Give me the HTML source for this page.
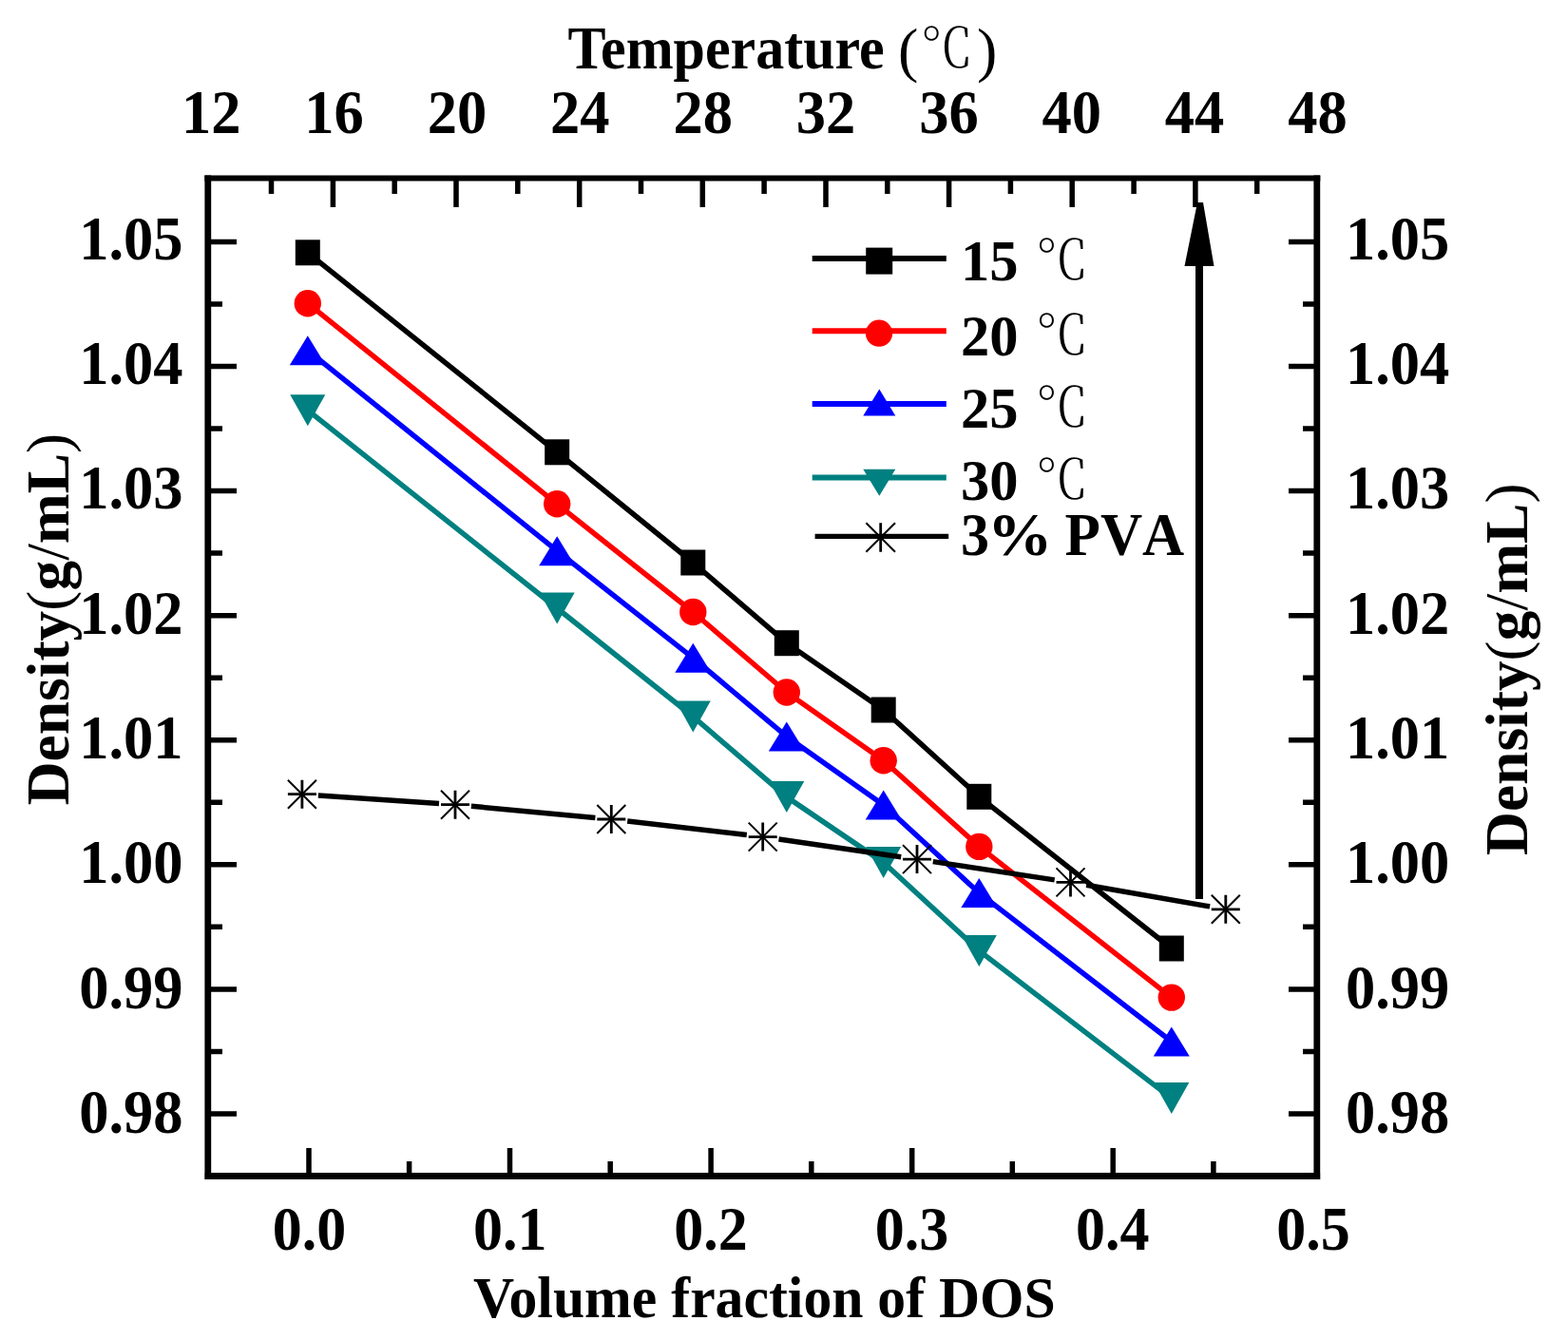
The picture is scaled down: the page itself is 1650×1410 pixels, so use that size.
<!DOCTYPE html>
<html><head><meta charset="utf-8"><style>html,body{margin:0;padding:0;background:#fff;}svg{display:block}</style></head>
<body><svg width="1650" height="1410" viewBox="0 0 1650 1410">
<rect width="1650" height="1410" fill="#fff"/>
<path d="M218.5 254.5H249 M1385.5 254.5H1356 M218.5 320.0H234 M1385.5 320.0H1371 M218.5 385.6H249 M1385.5 385.6H1356 M218.5 451.1H234 M1385.5 451.1H1371 M218.5 516.6H249 M1385.5 516.6H1356 M218.5 582.1H234 M1385.5 582.1H1371 M218.5 647.7H249 M1385.5 647.7H1356 M218.5 713.2H234 M1385.5 713.2H1371 M218.5 778.7H249 M1385.5 778.7H1356 M218.5 844.3H234 M1385.5 844.3H1371 M218.5 909.8H249 M1385.5 909.8H1356 M218.5 975.3H234 M1385.5 975.3H1371 M218.5 1040.9H249 M1385.5 1040.9H1356 M218.5 1106.4H234 M1385.5 1106.4H1371 M218.5 1171.9H249 M1385.5 1171.9H1356 M325.0 1236.5V1208 M430.6 1236.5V1222 M536.5 1236.5V1208 M642.2 1236.5V1222 M748.1 1236.5V1208 M853.8 1236.5V1222 M959.7 1236.5V1208 M1065.3 1236.5V1222 M1171.2 1236.5V1208 M1276.9 1236.5V1222 M285.5 187.5V204 M350.4 187.5V218 M415.2 187.5V204 M480.0 187.5V218 M544.8 187.5V204 M609.7 187.5V218 M674.5 187.5V204 M739.3 187.5V218 M804.1 187.5V204 M869.0 187.5V218 M933.8 187.5V204 M998.6 187.5V218 M1063.4 187.5V204 M1128.2 187.5V218 M1193.1 187.5V204 M1257.9 187.5V218 M1322.7 187.5V204" stroke="#000" stroke-width="5.5" fill="none"/>
<path d="M215.3 187.5H1389.3" stroke="#000" stroke-width="5.8" fill="none"/>
<path d="M218.8 184.5V1241M1385.8 184.5V1241M215.3 1237.5H1389.3" stroke="#000" stroke-width="6.8" fill="none"/>
<polyline points="323.8,431.7 586.2,640.0 729.3,754.0 827.8,838.6 929.7,907.6 1030.3,1000.4 1232.8,1155.6" fill="none" stroke="#008080" stroke-width="5.5" stroke-linejoin="round"/>
<path d="M323.8 448.2L342.3 415.2L305.3 415.2Z" fill="#008080"/>
<path d="M586.2 656.5L604.7 623.5L567.7 623.5Z" fill="#008080"/>
<path d="M729.3 770.5L747.8 737.5L710.8 737.5Z" fill="#008080"/>
<path d="M827.8 855.1L846.3 822.1L809.3 822.1Z" fill="#008080"/>
<path d="M929.7 924.1L948.2 891.1L911.2 891.1Z" fill="#008080"/>
<path d="M1030.3 1016.9L1048.8 983.9L1011.8 983.9Z" fill="#008080"/>
<path d="M1232.8 1172.1L1251.3 1139.1L1214.3 1139.1Z" fill="#008080"/>
<polyline points="323.8,368.7 586.2,579.7 729.3,692.3 827.8,775.0 929.7,847.0 1030.3,939.6 1232.8,1096.0" fill="none" stroke="#0000ff" stroke-width="5.5" stroke-linejoin="round"/>
<path d="M323.8 353.2L342.8 384.2L304.8 384.2Z" fill="#00f"/>
<path d="M586.2 564.2L605.2 595.2L567.2 595.2Z" fill="#00f"/>
<path d="M729.3 676.8L748.3 707.8L710.3 707.8Z" fill="#00f"/>
<path d="M827.8 759.5L846.8 790.5L808.8 790.5Z" fill="#00f"/>
<path d="M929.7 831.5L948.7 862.5L910.7 862.5Z" fill="#00f"/>
<path d="M1030.3 924.1L1049.3 955.1L1011.3 955.1Z" fill="#00f"/>
<path d="M1232.8 1080.5L1251.8 1111.5L1213.8 1111.5Z" fill="#00f"/>
<polyline points="323.8,319.2 586.2,530.3 729.3,644.0 827.8,728.5 929.7,800.3 1030.3,890.9 1232.8,1049.6" fill="none" stroke="#ff0000" stroke-width="5.5" stroke-linejoin="round"/>
<circle cx="323.8" cy="319.2" r="14.2" fill="#f00"/>
<circle cx="586.2" cy="530.3" r="14.2" fill="#f00"/>
<circle cx="729.3" cy="644.0" r="14.2" fill="#f00"/>
<circle cx="827.8" cy="728.5" r="14.2" fill="#f00"/>
<circle cx="929.7" cy="800.3" r="14.2" fill="#f00"/>
<circle cx="1030.3" cy="890.9" r="14.2" fill="#f00"/>
<circle cx="1232.8" cy="1049.6" r="14.2" fill="#f00"/>
<polyline points="323.8,265.8 586.2,475.8 729.3,592.0 827.8,676.7 929.7,747.0 1030.3,838.3 1232.8,998.0" fill="none" stroke="#000" stroke-width="5.5" stroke-linejoin="round"/>
<rect x="310.8" y="252.3" width="26" height="27" fill="#000"/>
<rect x="573.2" y="462.3" width="26" height="27" fill="#000"/>
<rect x="716.3" y="578.5" width="26" height="27" fill="#000"/>
<rect x="814.8" y="663.2" width="26" height="27" fill="#000"/>
<rect x="916.7" y="733.5" width="26" height="27" fill="#000"/>
<rect x="1017.3" y="824.8" width="26" height="27" fill="#000"/>
<rect x="1219.8" y="984.5" width="26" height="27" fill="#000"/>
<path d="M334.9 836.9L462.0 845.5 M495.9 848.3L626.4 860.4 M660.2 864.0L785.8 878.6 M819.5 883.0L948.2 901.7 M981.8 906.6L1109.7 925.9 M1143.2 931.3L1273.1 953.9" stroke="#000" stroke-width="5.5" fill="none"/>
<path d="M302.9 835.7H332.9M317.9 820.7V850.7" stroke="#000" stroke-width="2.8" fill="none"/>
<path d="M302.9 820.7L332.9 850.7M302.9 850.7L332.9 820.7" stroke="#000" stroke-width="2" fill="none"/>
<path d="M464.0 846.7H494.0M479.0 831.7V861.7" stroke="#000" stroke-width="2.8" fill="none"/>
<path d="M464.0 831.7L494.0 861.7M464.0 861.7L494.0 831.7" stroke="#000" stroke-width="2" fill="none"/>
<path d="M628.3 862.0H658.3M643.3 847.0V877.0" stroke="#000" stroke-width="2.8" fill="none"/>
<path d="M628.3 847.0L658.3 877.0M628.3 877.0L658.3 847.0" stroke="#000" stroke-width="2" fill="none"/>
<path d="M787.7 880.6H817.7M802.7 865.6V895.6" stroke="#000" stroke-width="2.8" fill="none"/>
<path d="M787.7 865.6L817.7 895.6M787.7 895.6L817.7 865.6" stroke="#000" stroke-width="2" fill="none"/>
<path d="M950.0 904.1H980.0M965.0 889.1V919.1" stroke="#000" stroke-width="2.8" fill="none"/>
<path d="M950.0 889.1L980.0 919.1M950.0 919.1L980.0 889.1" stroke="#000" stroke-width="2" fill="none"/>
<path d="M1111.5 928.4H1141.5M1126.5 913.4V943.4" stroke="#000" stroke-width="2.8" fill="none"/>
<path d="M1111.5 913.4L1141.5 943.4M1111.5 943.4L1141.5 913.4" stroke="#000" stroke-width="2" fill="none"/>
<path d="M1274.8 956.8H1304.8M1289.8 941.8V971.8" stroke="#000" stroke-width="2.8" fill="none"/>
<path d="M1274.8 941.8L1304.8 971.8M1274.8 971.8L1304.8 941.8" stroke="#000" stroke-width="2" fill="none"/>
<path d="M1262 946V275" stroke="#000" stroke-width="8" fill="none"/>
<path d="M1260 213L1266 213L1277.5 280L1246.5 280Z" fill="#000"/>
<path d="M854.7 271.9H995.8" stroke="#000" stroke-width="6"/>
<path d="M854.7 348.3H995.8" stroke="#ff0000" stroke-width="6"/>
<path d="M854.7 425H995.8" stroke="#0000ff" stroke-width="6"/>
<path d="M854.7 502.4H995.8" stroke="#008080" stroke-width="6"/>
<rect x="911.2" y="260.6" width="28" height="28" fill="#000"/>
<circle cx="925.0" cy="350.7" r="14.1" fill="#f00"/>
<path d="M925.3 409.6L942.3 437.6L908.3 437.6Z" fill="#00f"/>
<path d="M925.3 521.8L942.3 493.8L908.3 493.8Z" fill="#008080"/>
<path d="M857.6 564.4H998.2" stroke="#000" stroke-width="5.4"/>
<path d="M911.4 565.5H942.0M926.7 550.2V580.8" stroke="#000" stroke-width="2.8" fill="none"/>
<path d="M911.4 550.2L942.0 580.8M911.4 580.8L942.0 550.2" stroke="#000" stroke-width="2" fill="none"/>
<text transform="translate(597.5,72.0) scale(1.0,1.07)" font-family="Liberation Serif, serif" font-weight="bold" font-size="60">Temperature</text>
<text transform="translate(945.0,73.5) scale(1.0,1.0)" font-family="Liberation Serif, serif" font-size="64">(</text>
<text transform="translate(968.5,69.8) scale(1.05,1.04)" font-family="Liberation Serif, Noto Serif CJK SC, serif" font-weight="300" font-size="53">℃</text>
<text transform="translate(1028.0,73.5) scale(1.0,1.0)" font-family="Liberation Serif, serif" font-size="64">)</text>
<text transform="translate(222.3,139.8) scale(1.0,1.05)" font-family="Liberation Serif, serif" font-weight="bold" font-size="62.5" text-anchor="middle">12</text>
<text transform="translate(351.6,139.8) scale(1.0,1.05)" font-family="Liberation Serif, serif" font-weight="bold" font-size="62.5" text-anchor="middle">16</text>
<text transform="translate(481.0,139.8) scale(1.0,1.05)" font-family="Liberation Serif, serif" font-weight="bold" font-size="62.5" text-anchor="middle">20</text>
<text transform="translate(610.3,139.8) scale(1.0,1.05)" font-family="Liberation Serif, serif" font-weight="bold" font-size="62.5" text-anchor="middle">24</text>
<text transform="translate(739.7,139.8) scale(1.0,1.05)" font-family="Liberation Serif, serif" font-weight="bold" font-size="62.5" text-anchor="middle">28</text>
<text transform="translate(869.0,139.8) scale(1.0,1.05)" font-family="Liberation Serif, serif" font-weight="bold" font-size="62.5" text-anchor="middle">32</text>
<text transform="translate(998.4,139.8) scale(1.0,1.05)" font-family="Liberation Serif, serif" font-weight="bold" font-size="62.5" text-anchor="middle">36</text>
<text transform="translate(1127.8,139.8) scale(1.0,1.05)" font-family="Liberation Serif, serif" font-weight="bold" font-size="62.5" text-anchor="middle">40</text>
<text transform="translate(1257.1,139.8) scale(1.0,1.05)" font-family="Liberation Serif, serif" font-weight="bold" font-size="62.5" text-anchor="middle">44</text>
<text transform="translate(1386.4,139.8) scale(1.0,1.05)" font-family="Liberation Serif, serif" font-weight="bold" font-size="62.5" text-anchor="middle">48</text>
<text transform="translate(192.5,272.8) scale(1.0,1.04)" font-family="Liberation Serif, serif" font-weight="bold" font-size="62.5" text-anchor="end">1.05</text>
<text transform="translate(1416.0,272.8) scale(1.0,1.04)" font-family="Liberation Serif, serif" font-weight="bold" font-size="62.5">1.05</text>
<text transform="translate(192.5,404.1) scale(1.0,1.04)" font-family="Liberation Serif, serif" font-weight="bold" font-size="62.5" text-anchor="end">1.04</text>
<text transform="translate(1416.0,404.1) scale(1.0,1.04)" font-family="Liberation Serif, serif" font-weight="bold" font-size="62.5">1.04</text>
<text transform="translate(192.5,535.4) scale(1.0,1.04)" font-family="Liberation Serif, serif" font-weight="bold" font-size="62.5" text-anchor="end">1.03</text>
<text transform="translate(1416.0,535.4) scale(1.0,1.04)" font-family="Liberation Serif, serif" font-weight="bold" font-size="62.5">1.03</text>
<text transform="translate(192.5,666.7) scale(1.0,1.04)" font-family="Liberation Serif, serif" font-weight="bold" font-size="62.5" text-anchor="end">1.02</text>
<text transform="translate(1416.0,666.7) scale(1.0,1.04)" font-family="Liberation Serif, serif" font-weight="bold" font-size="62.5">1.02</text>
<text transform="translate(192.5,798.0) scale(1.0,1.04)" font-family="Liberation Serif, serif" font-weight="bold" font-size="62.5" text-anchor="end">1.01</text>
<text transform="translate(1416.0,798.0) scale(1.0,1.04)" font-family="Liberation Serif, serif" font-weight="bold" font-size="62.5">1.01</text>
<text transform="translate(192.5,929.3) scale(1.0,1.04)" font-family="Liberation Serif, serif" font-weight="bold" font-size="62.5" text-anchor="end">1.00</text>
<text transform="translate(1416.0,929.3) scale(1.0,1.04)" font-family="Liberation Serif, serif" font-weight="bold" font-size="62.5">1.00</text>
<text transform="translate(192.5,1060.6) scale(1.0,1.04)" font-family="Liberation Serif, serif" font-weight="bold" font-size="62.5" text-anchor="end">0.99</text>
<text transform="translate(1416.0,1060.6) scale(1.0,1.04)" font-family="Liberation Serif, serif" font-weight="bold" font-size="62.5">0.99</text>
<text transform="translate(192.5,1191.9) scale(1.0,1.04)" font-family="Liberation Serif, serif" font-weight="bold" font-size="62.5" text-anchor="end">0.98</text>
<text transform="translate(1416.0,1191.9) scale(1.0,1.04)" font-family="Liberation Serif, serif" font-weight="bold" font-size="62.5">0.98</text>
<text transform="translate(325.5,1314.8) scale(1.0,1.05)" font-family="Liberation Serif, serif" font-weight="bold" font-size="62" text-anchor="middle">0.0</text>
<text transform="translate(536.8,1314.8) scale(1.0,1.05)" font-family="Liberation Serif, serif" font-weight="bold" font-size="62" text-anchor="middle">0.1</text>
<text transform="translate(748.1,1314.8) scale(1.0,1.05)" font-family="Liberation Serif, serif" font-weight="bold" font-size="62" text-anchor="middle">0.2</text>
<text transform="translate(959.4,1314.8) scale(1.0,1.05)" font-family="Liberation Serif, serif" font-weight="bold" font-size="62" text-anchor="middle">0.3</text>
<text transform="translate(1170.7,1314.8) scale(1.0,1.05)" font-family="Liberation Serif, serif" font-weight="bold" font-size="62" text-anchor="middle">0.4</text>
<text transform="translate(1382.0,1314.8) scale(1.0,1.05)" font-family="Liberation Serif, serif" font-weight="bold" font-size="62" text-anchor="middle">0.5</text>
<text transform="translate(804.3,1385.6) scale(1.0,1.04)" font-family="Liberation Serif, serif" font-weight="bold" font-size="59.7" text-anchor="middle">Volume fraction of DOS</text>
<text transform="translate(71.5,651.5) rotate(-90)" text-anchor="middle" font-size="63.5"><tspan font-family="Liberation Serif, serif" font-weight="bold">Density</tspan><tspan font-family="Liberation Serif, serif">(</tspan><tspan font-family="Liberation Serif, serif" font-weight="bold">g</tspan><tspan font-family="Liberation Serif, serif">/</tspan><tspan font-family="Liberation Serif, serif" font-weight="bold">mL</tspan><tspan font-family="Liberation Serif, serif">)</tspan></text>
<text transform="translate(1607,704.2) rotate(-90)" text-anchor="middle" font-size="63.5"><tspan font-family="Liberation Serif, serif" font-weight="bold">Density</tspan><tspan font-family="Liberation Serif, serif">(</tspan><tspan font-family="Liberation Serif, serif" font-weight="bold">g</tspan><tspan font-family="Liberation Serif, serif">/</tspan><tspan font-family="Liberation Serif, serif" font-weight="bold">mL</tspan><tspan font-family="Liberation Serif, serif">)</tspan></text>
<text transform="translate(1011.0,294.5) scale(1.0,1.0)" font-family="Liberation Serif, serif" font-weight="bold" font-size="60.5">15</text>
<text transform="translate(1089.8,292.5) scale(1.05,1.04)" font-family="Liberation Serif, Noto Serif CJK SC, serif" font-weight="300" font-size="53">℃</text>
<text transform="translate(1011.0,373.5) scale(1.0,1.0)" font-family="Liberation Serif, serif" font-weight="bold" font-size="60.5">20</text>
<text transform="translate(1089.8,371.5) scale(1.05,1.04)" font-family="Liberation Serif, Noto Serif CJK SC, serif" font-weight="300" font-size="53">℃</text>
<text transform="translate(1011.0,449.5) scale(1.0,1.0)" font-family="Liberation Serif, serif" font-weight="bold" font-size="60.5">25</text>
<text transform="translate(1089.8,447.5) scale(1.05,1.04)" font-family="Liberation Serif, Noto Serif CJK SC, serif" font-weight="300" font-size="53">℃</text>
<text transform="translate(1011.0,525.5) scale(1.0,1.0)" font-family="Liberation Serif, serif" font-weight="bold" font-size="60.5">30</text>
<text transform="translate(1089.8,523.5) scale(1.05,1.04)" font-family="Liberation Serif, Noto Serif CJK SC, serif" font-weight="300" font-size="53">℃</text>
<text transform="translate(1011.0,583.5) scale(1.0,1.06)" font-family="Liberation Serif, serif" font-weight="bold" font-size="60">3</text>
<text transform="translate(1039,583.5) scale(1.14,1.06)" font-family="Liberation Serif, serif" font-weight="bold" font-size="60">%</text>
<text transform="translate(1120.5,583.5) scale(1.02,1.06)" font-family="Liberation Serif, serif" font-weight="bold" font-size="60" style="font-kerning:none">PVA</text>
</svg></body></html>
